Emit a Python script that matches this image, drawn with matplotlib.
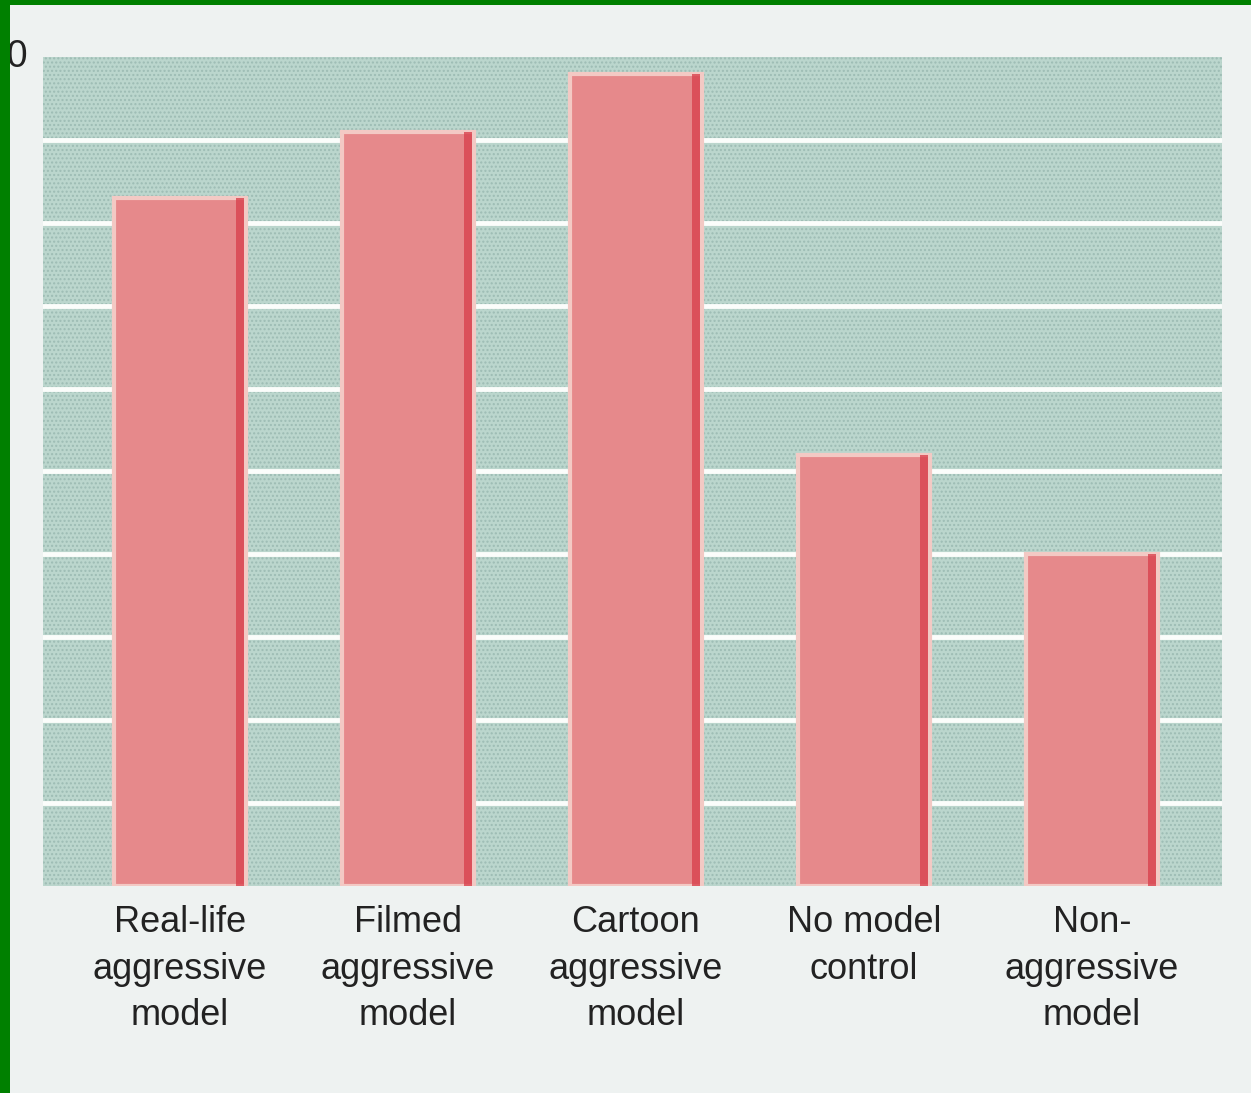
#!/usr/bin/env python3
"""Bar chart: aggression scores by model condition (scanned textbook figure)."""
import numpy as np
import matplotlib.pyplot as plt
from matplotlib.patches import Rectangle

plt.rcParams['font.family'] = ['Liberation Sans', 'DejaVu Sans']

# Data (scale 0-100, gridlines every 10)
categories = ["Real-life\naggressive\nmodel",
              "Filmed\naggressive\nmodel",
              "Cartoon\naggressive\nmodel",
              "No model\ncontrol",
              "Non-\naggressive\nmodel"]
scores = [83, 91, 98, 52, 40]
y_ticks = np.arange(0, 101, 10)

# Colours
PAGE = '#eef2f1'
PANEL = '#bbd6cd'
BAR = '#e6898b'
BAR_EDGE = '#f3c9c4'
BAR_SHADE = '#d9424e'
BORDER = '#008000'

fig = plt.figure(figsize=(12.51, 10.93), dpi=100, facecolor=PAGE)
ax = fig.add_axes([43 / 1251, 1 - 886 / 1093, (1222 - 43) / 1251, (886 - 57) / 1093])
ax.set_facecolor(PANEL)

# halftone-ish texture on the panel
ax.add_patch(Rectangle((0, 0), 1, 1, transform=ax.transAxes, facecolor='none',
                       edgecolor='#9dbcb4', hatch='....', linewidth=0, zorder=0.5))

# white gridlines
for y in y_ticks[1:-1]:
    ax.axhline(y, color='#fbfdfb', linewidth=3.5, zorder=1)

x = np.arange(len(categories))
width = 0.58
ax.bar(x, scores, width=width, color=BAR, edgecolor=BAR_EDGE, linewidth=3, zorder=2)
# darker shaded right edge of each bar
ax.bar(x + width / 2 - 0.025, scores, width=0.035, color=BAR_SHADE,
       linewidth=0, alpha=0.8, zorder=3)

ax.set_xlim(-0.6, 4.57)
ax.set_ylim(0, 100)
ax.set_xticks(x)
ax.set_xticklabels(categories, fontsize=26, color='#222222', linespacing=1.42)
# top tick label; the "10" part is hidden under the green slide border as in the scan
ax.set_yticks([100])
ax.set_yticklabels(['100'], fontsize=27, color='#222222', va='center')
ax.tick_params(axis='x', length=0, pad=14)
ax.tick_params(axis='y', length=0, pad=11)
for side in ax.spines.values():
    side.set_visible(False)

# green slide border (left and top), drawn over everything
fig.patches.append(Rectangle((0, 0), 10 / 1251, 1, transform=fig.transFigure,
                             facecolor=BORDER, edgecolor='none', zorder=10))
fig.patches.append(Rectangle((0, 1 - 5 / 1093), 1, 5 / 1093, transform=fig.transFigure,
                             facecolor=BORDER, edgecolor='none', zorder=10))

fig.savefig('out.png', dpi=100, facecolor=PAGE)
